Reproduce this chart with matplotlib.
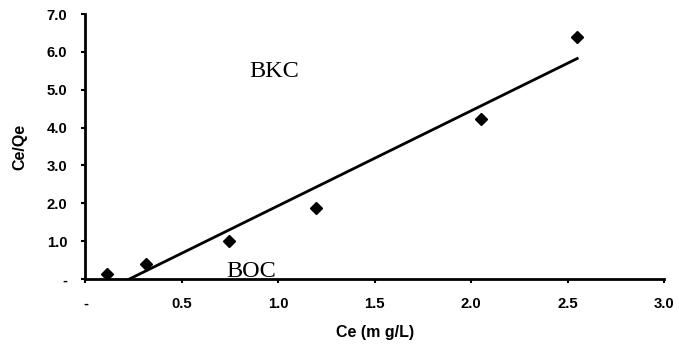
"""
Ce/Qe vs Ce linear isotherm plot
"""
import numpy as np
import matplotlib.pyplot as plt
from matplotlib.ticker import FuncFormatter

ce = [0.113, 0.314, 0.746, 1.194, 2.05, 2.55]
ce_qe = [0.13, 0.40, 1.01, 1.88, 4.24, 6.39]

x_ticks = [0, 0.5, 1.0, 1.5, 2.0, 2.5, 3.0]
y_ticks = [0, 1, 2, 3, 4, 5, 6, 7]


def dash_zero(v, pos):
    return '-' if abs(v) < 1e-9 else f'{v:.1f}'


plt.rcParams['font.family'] = ['Liberation Sans', 'DejaVu Sans']

fig = plt.figure(figsize=(6.79, 3.51), dpi=100)
ax = fig.add_axes([0.1259, 0.205, 0.852, 0.755])

# linear trendline through the points
slope, intercept = np.polyfit(ce, ce_qe, 1)
xs = np.array([ce[0], ce[-1]])
ax.plot(xs, slope * xs + intercept, color='black', linewidth=2)
ax.plot(ce, ce_qe, linestyle='none', marker='D', markersize=6.5, color='black')

ax.set_xlim(0, 3.0)
ax.set_ylim(0, 7.0)
ax.set_xticks(x_ticks)
ax.set_yticks(y_ticks)
ax.xaxis.set_major_formatter(FuncFormatter(dash_zero))
ax.yaxis.set_major_formatter(FuncFormatter(dash_zero))

for s in ['top', 'right']:
    ax.spines[s].set_visible(False)
for s in ['left', 'bottom']:
    ax.spines[s].set_linewidth(2)
    ax.spines[s].set_clip_on(False)

ax.tick_params(axis='both', direction='out', length=3, width=1.5,
               labelsize=10.7, pad=10)
for lab in ax.get_xticklabels() + ax.get_yticklabels():
    lab.set_fontweight('bold')

ax.set_xlabel('Ce (m g/L)', fontsize=11.5, fontweight='bold', labelpad=10)
ax.set_ylabel('Ce/Qe', fontsize=11.5, fontweight='bold', labelpad=14)

ax.text(0.85, 5.34, 'BKC', fontsize=17.5, family='Liberation Serif', va='baseline')
ax.text(0.73, 0.06, 'BOC', fontsize=17.5, family='Liberation Serif', va='baseline')

plt.savefig('out.png', dpi=100)
plt.close()
